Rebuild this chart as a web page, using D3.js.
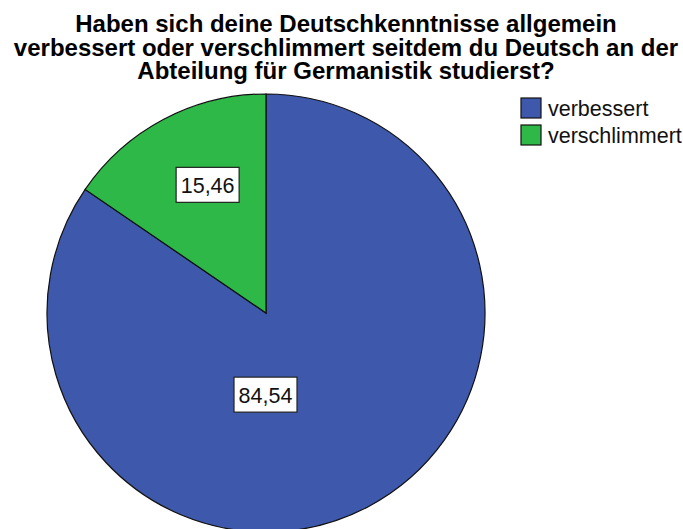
<!DOCTYPE html>
<html>
<head>
<meta charset="utf-8">
<script src="https://cdn.jsdelivr.net/npm/d3@7"></script>
<style>
  body { margin: 0; background: #fff; }
  svg { display: block; }
</style>
</head>
<body>
<svg id="chart" width="683" height="529"></svg>
<script>
// chart data
const categories = ["verbessert", "verschlimmert"];
const percents = [84.54, 15.46];
const colors = ["#3e58ac", "#2eb848"];
const titleLines = [
  "Haben sich deine Deutschkenntnisse allgemein",
  "verbessert oder verschlimmert seitdem du Deutsch an der",
  "Abteilung für Germanistik studierst?"
];

const svg = d3.select("#chart");
const cx = 266, cy = 313, R = 219;

// title, three centered lines
svg.append("g")
  .selectAll("text")
  .data(titleLines)
  .enter()
  .append("text")
  .attr("x", 346)
  .attr("y", (d, i) => 32 + i * 23.5)
  .attr("text-anchor", "middle")
  .style("font-family", "'Liberation Sans', Arial, sans-serif")
  .style("font-weight", "bold")
  .style("font-size", "24px")
  .style("fill", "#000")
  .text(d => d);

const slices = categories.map((c, i) => ({ name: c, value: percents[i], color: colors[i] }));

const pie = d3.pie().sort(null).value(d => d.value);
const arc = d3.arc().innerRadius(0).outerRadius(R);
const arcs = pie(slices);

const g = svg.append("g").attr("transform", `translate(${cx},${cy})`);

g.selectAll("path")
  .data(arcs)
  .enter()
  .append("path")
  .attr("d", arc)
  .attr("fill", d => d.data.color)
  .attr("stroke", "#111")
  .attr("stroke-width", 1.2);

// value labels in white boxes
function labelPos(d) {
  const span = d.endAngle - d.startAngle;
  if (span > Math.PI) {
    // big slice: label straight below the centre
    return [0, R * 0.375];
  }
  const a = (d.startAngle + d.endAngle) / 2 + 0.06;
  const r = R * 0.64;
  return [Math.sin(a) * r, -Math.cos(a) * r];
}

const labels = g.selectAll("g.lbl")
  .data(arcs)
  .enter()
  .append("g")
  .classed("lbl", true)
  .attr("transform", d => {
    const p = labelPos(d);
    return `translate(${p[0] - 0.5},${p[1]})`;
  });

labels.append("rect")
  .attr("x", -31.5)
  .attr("y", -18)
  .attr("width", 63)
  .attr("height", 35)
  .attr("fill", "#fff")
  .attr("stroke", "#222")
  .attr("stroke-width", 1.2);

labels.append("text")
  .attr("text-anchor", "middle")
  .attr("y", 8)
  .style("font-family", "'Liberation Sans', Arial, sans-serif")
  .style("font-size", "21.5px")
  .style("fill", "#111")
  .text(d => d.data.value.toFixed(2).replace(".", ","));

// legend
const legend = svg.append("g")
  .selectAll("g")
  .data(slices)
  .enter()
  .append("g")
  .attr("transform", (d, i) => `translate(521,${98 + i * 27})`);

legend.append("rect")
  .attr("width", 20)
  .attr("height", 20)
  .attr("fill", d => d.color)
  .attr("stroke", "#111")
  .attr("stroke-width", 1.2);

legend.append("text")
  .attr("x", 27)
  .attr("y", 18)
  .style("font-family", "'Liberation Sans', Arial, sans-serif")
  .style("font-size", "21.5px")
  .style("fill", "#111")
  .text(d => d.name);
</script>
</body>
</html>
